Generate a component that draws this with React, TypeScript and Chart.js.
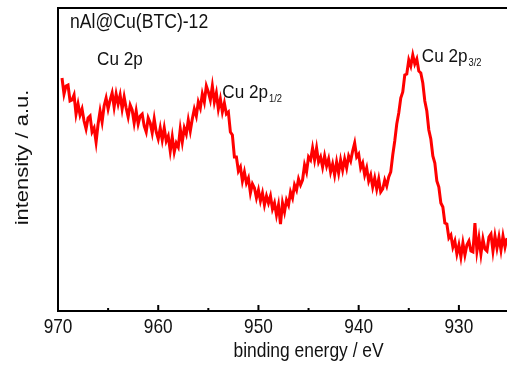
import React, { useEffect, useRef } from "react";
import { Chart, registerables } from "chart.js";

Chart.register(...registerables);

// Sampling of the spectrum (binding energy, eV), high to low
const START_EV = 969.6;
const STEP_EV = 0.2;

// Measured intensity (a.u.), one value per sample step
const intensity: number[] = [
  233, 217, 225, 226, 210, 211, 216, 197, 207, 196,
  202, 190, 182, 193, 195, 179, 183, 169, 187, 200,
  189, 205, 213, 202, 211, 218, 204, 217, 207, 216,
  202, 214, 203, 194, 206, 201, 188, 200, 187, 195,
  197, 185, 179, 193, 188, 178, 192, 179, 172, 183,
  171, 183, 170, 175, 160, 174, 159, 168, 164, 182,
  169, 183, 177, 191, 180, 192, 202, 195, 209, 203,
  217, 209, 225, 219, 211, 225, 209, 218, 202, 212,
  199, 208, 197, 199, 179, 176, 154, 154, 140, 144,
  130, 139, 128, 133, 118, 127, 123, 113, 121, 110,
  118, 106, 115, 108, 115, 102, 108, 96, 106, 87,
  108, 99, 111, 106, 119, 113, 126, 121, 132, 126,
  131, 146, 139, 154, 151, 163, 151, 163, 149, 154,
  144, 155, 145, 152, 139, 147, 136, 149, 138, 151,
  141, 152, 143, 155, 150, 160, 168, 154, 157, 143,
  148, 136, 143, 130, 136, 124, 133, 122, 132, 119,
  122, 131, 125, 134, 139, 156, 170, 187, 198, 213,
  219, 236, 237, 251, 245, 256, 247, 252, 240, 238,
  228, 210, 200, 181, 172, 155, 148, 130, 124, 108,
  104, 88, 87, 73, 76, 64, 70, 57, 66, 54,
  68, 56, 66, 70, 60, 59, 88, 60, 73, 57,
  72, 62, 60, 74, 77, 60, 75, 63, 74, 61,
  75, 64, 73,
];

const xMajorTicks = [970, 960, 950, 940, 930];
const xMinorTicks = [965, 955, 945, 935];
const xTitle = "binding energy / eV";
const yTitle = "intensity / a.u.";

// Annotation labels: text, subscript, energy (eV), intensity
const labelTexts = ["nAl@Cu(BTC)-12", "Cu 2p", "Cu 2p", "Cu 2p"];
const labelSubs = ["", "", "1/2", "3/2"];
const labelEnergy = [968.8, 966.1, 953.6, 933.7];
const labelIntensity = [283, 246, 213, 249];

const FONT = "'Liberation Sans', Arial, sans-serif";

function drawScaledText(
  ctx: CanvasRenderingContext2D,
  text: string,
  x: number,
  y: number,
  size: number,
  sx: number,
  align: CanvasTextAlign
) {
  ctx.save();
  ctx.translate(x, y);
  ctx.scale(sx, 1);
  ctx.font = `${size}px ${FONT}`;
  ctx.textAlign = align;
  ctx.textBaseline = "alphabetic";
  ctx.fillStyle = "#111";
  ctx.fillText(text, 0, 0);
  const w = ctx.measureText(text).width * sx;
  ctx.restore();
  return w;
}

const framePlugin = {
  id: "frame",
  afterDraw(chart: any) {
    const ctx: CanvasRenderingContext2D = chart.ctx;
    const { left, right, top, bottom } = chart.chartArea;
    const xs = chart.scales.x;
    const ys = chart.scales.y;
    ctx.save();
    ctx.strokeStyle = "#000";
    ctx.lineWidth = 2;
    ctx.beginPath();
    ctx.moveTo(right + 2, top);
    ctx.lineTo(left, top);
    ctx.lineTo(left, bottom);
    ctx.lineTo(right + 2, bottom);
    ctx.stroke();
    // inward ticks
    ctx.beginPath();
    xMajorTicks.forEach((v) => {
      const px = xs.getPixelForValue(v);
      ctx.moveTo(px, bottom);
      ctx.lineTo(px, bottom - 6);
    });
    xMinorTicks.forEach((v) => {
      const px = xs.getPixelForValue(v);
      ctx.moveTo(px, bottom);
      ctx.lineTo(px, bottom - 3);
    });
    ctx.stroke();
    ctx.restore();

    // tick labels
    xMajorTicks.forEach((v) => {
      drawScaledText(ctx, String(v), xs.getPixelForValue(v), bottom + 22, 21, 0.82, "center");
    });
    // x title
    drawScaledText(ctx, xTitle, xs.getPixelForValue(945), bottom + 46, 21, 0.83, "center");
    // y title (rotated)
    ctx.save();
    ctx.translate(28, (top + bottom) / 2 - 2);
    ctx.rotate(-Math.PI / 2);
    ctx.scale(1, 0.82);
    ctx.font = `22px ${FONT}`;
    ctx.textAlign = "center";
    ctx.textBaseline = "alphabetic";
    ctx.fillStyle = "#111";
    ctx.fillText(yTitle, 0, 0);
    ctx.restore();

    // annotations
    labelTexts.forEach((t, i) => {
      const px = xs.getPixelForValue(labelEnergy[i]);
      const py = ys.getPixelForValue(labelIntensity[i]);
      const size = i === 0 ? 20 : 19;
      const sx = i === 0 ? 0.88 : 0.9;
      const w = drawScaledText(ctx, t, px, py, size, sx, "left");
      if (labelSubs[i]) {
        drawScaledText(ctx, labelSubs[i], px + w + 1, py + 4, 11, 0.85, "left");
      }
    });
  },
};

export default function App() {
  const canvasRef = useRef<HTMLCanvasElement | null>(null);

  useEffect(() => {
    if (!canvasRef.current) return;
    const points = intensity.map((v, i) => ({
      x: +(START_EV - i * STEP_EV).toFixed(1),
      y: v,
    }));
    const chart = new Chart(canvasRef.current, {
      type: "line",
      data: {
        datasets: [
          {
            data: points,
            borderColor: "#ff0000",
            borderWidth: 3,
            pointRadius: 0,
            tension: 0,
            fill: false,
          },
        ],
      },
      options: {
        responsive: false,
        animation: false,
        layout: { padding: { top: 8, right: 0, left: 0, bottom: 0 } },
        plugins: {
          legend: { display: false },
          tooltip: { enabled: false },
        },
        scales: {
          x: {
            type: "linear",
            reverse: true,
            min: 925.2,
            max: 970,
            grid: { display: false },
            border: { display: false },
            ticks: { display: false },
            afterFit: (s: any) => {
              s.height = 54;
            },
          },
          y: {
            type: "linear",
            min: 0,
            max: 303,
            grid: { display: false },
            border: { display: false },
            ticks: { display: false },
            afterFit: (s: any) => {
              s.width = 58;
            },
          },
        },
      },
      plugins: [framePlugin],
    });
    return () => chart.destroy();
  }, []);

  return (
    <div style={{ position: "absolute", left: 0, top: 0, width: 507, height: 365, background: "#fff" }}>
      <canvas ref={canvasRef} width={507} height={365} />
    </div>
  );
}
